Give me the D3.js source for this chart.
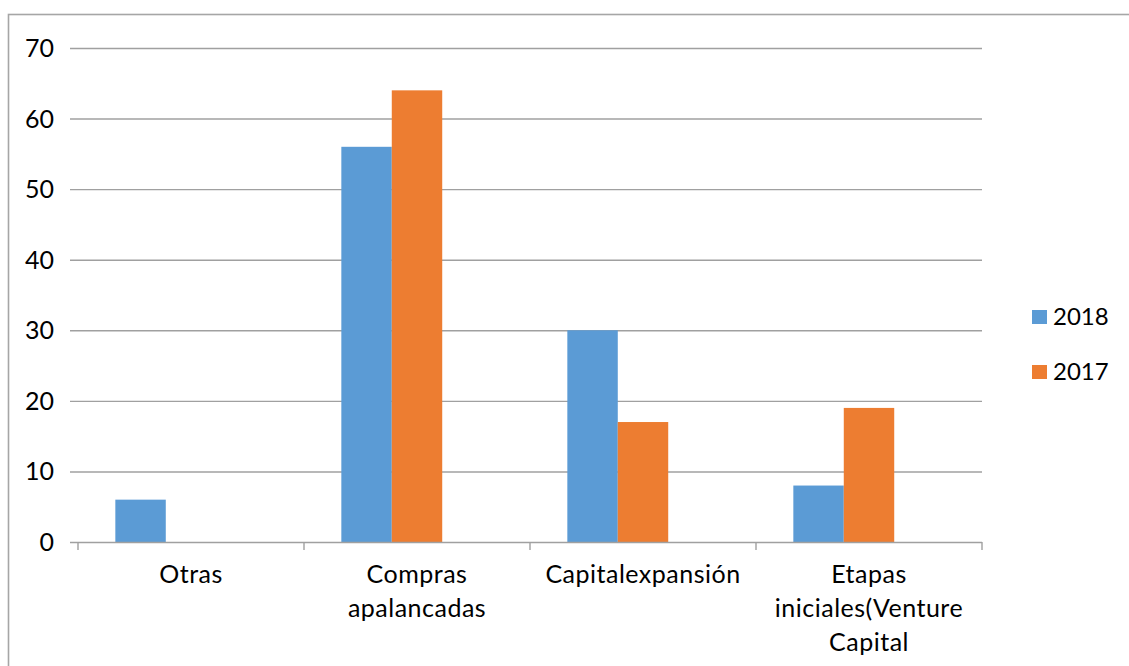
<!DOCTYPE html>
<html>
<head>
<meta charset="utf-8">
<script src="https://cdn.jsdelivr.net/npm/d3@7"></script>
<style>
  html, body { margin: 0; padding: 0; background: #ffffff; }
  svg { display: block; }
  text { font-family: "Lato", "Liberation Sans", sans-serif; fill: #000; }
</style>
</head>
<body>
<svg id="chart" width="1129" height="666"></svg>
<script>
// Investment by stage (percent), two years
const categories = ["Otras", "Compras apalancadas", "Capitalexpansión", "Etapas iniciales(Venture Capital"];
const categoryLines = [["Otras"], ["Compras", "apalancadas"], ["Capitalexpansión"], ["Etapas", "iniciales(Venture", "Capital"]];
const seriesNames = ["2018", "2017"];
const values2018 = [6, 56, 30, 8];
const values2017 = [null, 64, 17, 19];
const yTicks = [0, 10, 20, 30, 40, 50, 60, 70];
const colors = ["#5B9BD5", "#ED7D31"];

const W = 1129, H = 666;
const plot = { left: 78, right: 982, top: 48, bottom: 542, gridStart: 70 };

const svg = d3.select("#chart");

// outer chart frame (top and left edges visible)
svg.append("rect")
  .attr("x", 8.5).attr("y", 14.5)
  .attr("width", W + 20).attr("height", H + 20)
  .attr("fill", "none")
  .attr("stroke", "#A6A6A6")
  .attr("stroke-width", 1.6);

const y = d3.scaleLinear().domain([0, 70]).range([plot.bottom, plot.top]);
const x0 = d3.scaleBand().domain(categories).range([plot.left, plot.right]).padding(0);
// three slots per category; the third one stays empty
const x1 = d3.scaleBand().domain([0, 1, 2]).range([0, x0.bandwidth()]).paddingOuter(0.74).paddingInner(0);

// horizontal gridlines
svg.append("g")
  .selectAll("line")
  .data(yTicks.filter(d => d > 0))
  .join("line")
  .attr("x1", plot.gridStart).attr("x2", plot.right)
  .attr("y1", d => y(d) + 0.5).attr("y2", d => y(d) + 0.5)
  .attr("stroke", "#A0A0A0")
  .attr("stroke-width", 1.4);

// y axis labels
const yAxis = svg.append("g")
  .attr("transform", `translate(${plot.gridStart},0)`)
  .call(d3.axisLeft(y).tickValues(yTicks).tickSize(0).tickPadding(16));
yAxis.select(".domain").remove();
yAxis.selectAll("text")
  .attr("font-size", 25)
  .attr("font-family", "Lato")
  .attr("fill", "#000")
  .attr("dy", "0.34em");

// bars
const series = [values2018, values2017];
series.forEach((vals, si) => {
  svg.append("g")
    .selectAll("rect")
    .data(categories.map((c, i) => ({ c, v: vals[i] })).filter(d => d.v != null))
    .join("rect")
    .attr("x", d => x0(d.c) + x1(si))
    .attr("width", x1.bandwidth())
    .attr("y", d => y(d.v))
    .attr("height", d => y(0) - y(d.v))
    .attr("fill", colors[si]);
});

// x axis: baseline, tick marks and wrapped category labels
const xAxis = svg.append("g")
  .attr("transform", `translate(0,${plot.bottom + 0.5})`)
  .call(d3.axisBottom(x0).tickSize(0).tickFormat(""));
xAxis.select(".domain").remove();
xAxis.selectAll(".tick line").remove();

svg.append("line")
  .attr("x1", plot.gridStart).attr("x2", plot.right)
  .attr("y1", plot.bottom + 0.5).attr("y2", plot.bottom + 0.5)
  .attr("stroke", "#A0A0A0").attr("stroke-width", 1.4);

const boundaries = categories.map(c => x0(c)).concat([plot.right]);
svg.append("g")
  .selectAll("line")
  .data(boundaries)
  .join("line")
  .attr("x1", d => d).attr("x2", d => d)
  .attr("y1", plot.bottom).attr("y2", plot.bottom + 8)
  .attr("stroke", "#A0A0A0").attr("stroke-width", 1.4);

xAxis.selectAll(".tick").each(function(c, i) {
  const g = d3.select(this);
  categoryLines[i].forEach((ln, li) => {
    g.append("text")
      .attr("text-anchor", "middle")
      .attr("font-size", 25)
      .attr("letter-spacing", 0.5)
      .attr("y", 40 + li * 34)
      .text(ln);
  });
});

// legend
const legend = svg.append("g");
seriesNames.forEach((name, i) => {
  const ly = 310 + i * 55;
  legend.append("rect")
    .attr("x", 1032).attr("y", ly)
    .attr("width", 15).attr("height", 14)
    .attr("fill", colors[i]);
  legend.append("text")
    .attr("font-size", 24)
    .attr("x", 1053).attr("y", ly + 15)
    .text(name);
});
</script>
</body>
</html>
